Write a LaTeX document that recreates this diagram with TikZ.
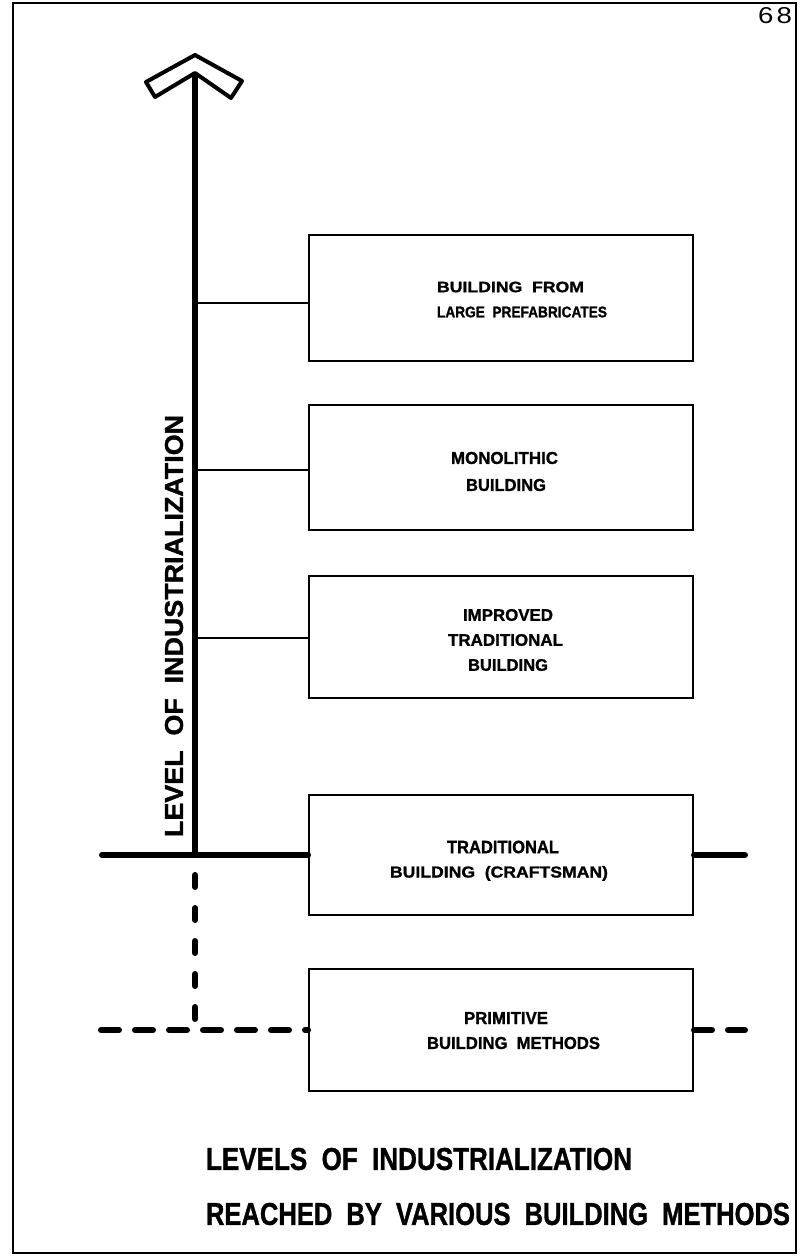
\documentclass[tikz,border=0pt]{standalone}
\usepackage{fontspec}
\setmainfont{Liberation Sans}[BoldFeatures={FakeBold=1.2}]
\usepackage{graphicx}
\newcommand{\fitw}[2]{\resizebox{#1pt}{!}{#2}}
\newcommand{\fitwh}[3]{\resizebox{#1pt}{#2pt}{#3}}
\newcommand{\wsp}{\hspace{0.55em}}
\begin{document}
\begin{tikzpicture}[x=1pt,y=-1pt,
  framestyle/.style={line width=2.5pt},
  box/.style={draw, line width=2pt, rectangle, minimum width=384pt, inner sep=0pt},
  thin link/.style={line width=1.6pt},
  solidlevel/.style={line width=6pt, line cap=round},
  dashlevel/.style={line width=6pt, line cap=round, dash pattern=on 18pt off 16pt},
  dashaxis/.style={line width=6pt, line cap=round, dash pattern=on 12pt off 21pt, dash phase=13pt},
  txt/.style={inner sep=0pt, font=\fontsize{15}{18}\selectfont\bfseries},
  bigtxt/.style={inner sep=0pt, font=\fontsize{24}{28}\selectfont\bfseries},
  headtip/.style={line width=4pt, line join=round, fill=white}
]
\useasboundingbox (0,0) rectangle (803,1257);
\fill[white] (0,0) rectangle (803,1257);
% frame
\draw[framestyle] (13,3) rectangle (796,1253);
\node[inner sep=0pt, font=\fontsize{18}{20}\selectfont] (pagenum) at (775,16) {\fitwh{34}{16}{6\hspace{0.12em}8}};

% boxes
\node[box, minimum height=126pt] (b1) at (501,298) {};
\node[box, minimum height=125pt] (b2) at (501,467.5) {};
\node[box, minimum height=122pt] (b3) at (501,637) {};
\node[box, minimum height=120pt] (b4) at (501,855) {};
\node[box, minimum height=122pt] (b5) at (501,1030) {};

% box texts
\node[txt] (t1a) at (510.5,287) {\fitwh{147}{10.5}{BUILDING\wsp FROM}};
\node[txt] (t1b) at (522,312) {\fitwh{170}{10.8}{LARGE\wsp PREFABRICATES}};
\node[txt] (t2a) at (504.5,458) {\fitwh{107}{12}{MONOLITHIC}};
\node[txt] (t2b) at (506,485) {\fitwh{80}{12}{BUILDING}};
\node[txt] (t3a) at (508,615) {\fitwh{90}{11.7}{IMPROVED}};
\node[txt] (t3b) at (505.5,640) {\fitwh{115}{11.7}{TRADITIONAL}};
\node[txt] (t3c) at (508,665) {\fitwh{80}{11.7}{BUILDING}};
\node[txt] (t4a) at (503,847) {\fitwh{112}{12.5}{TRADITIONAL}};
\node[txt, anchor=base] (t4b) at (499,877.5) {\fitwh{218}{11.5}{BUILDING\wsp (CRAFTSMAN)}};
\node[txt] (t5a) at (506,1018) {\fitwh{84}{12}{PRIMITIVE}};
\node[txt] (t5b) at (513.5,1043) {\fitwh{173}{12}{BUILDING\wsp METHODS}};

% axis
\coordinate (tip) at (195,73);
\coordinate (ax0) at (195,855);
\coordinate (ax1) at (195,1030);
\draw[headtip] (195,55) -- (146,82) -- (155,97) -- (195,73) -- (231,98) -- (242,81) -- cycle;
\draw[line width=6pt] (tip) -- (ax0);

% links
\coordinate (a1) at (195,303);
\coordinate (a2) at (195,470);
\coordinate (a3) at (195,638);
\draw[thin link] (a1) -- (a1 -| b1.west);
\draw[thin link] (a2) -- (a2 -| b2.west);
\draw[thin link] (a3) -- (a3 -| b3.west);

% solid level
\coordinate (sl) at (102,855);
\coordinate (sr) at (745,855);
\draw[solidlevel] (sl) -- (b4.west);
\draw[solidlevel] (b4.east) -- (sr);

% dashed level
\coordinate (dl) at (101,1030);
\coordinate (dr) at (745,1030);
\draw[dashaxis] (ax0) -- (ax1);
\draw[dashlevel] (dl) -- (b5.west);
\draw[dashlevel] (b5.east) -- (dr);

% axis label
\node[bigtxt, rotate=90] (axlabel) at (174,626) {\fitwh{422}{18}{LEVEL\wsp OF\wsp INDUSTRIALIZATION}};

% title
\node[bigtxt] (title1) at (419,1159) {\fitwh{426}{22}{LEVELS\wsp OF\wsp INDUSTRIALIZATION}};
\node[bigtxt] (title2) at (498,1214) {\fitwh{584}{22}{REACHED\wsp BY\wsp VARIOUS\wsp BUILDING\wsp METHODS}};
\end{tikzpicture}
\end{document}
